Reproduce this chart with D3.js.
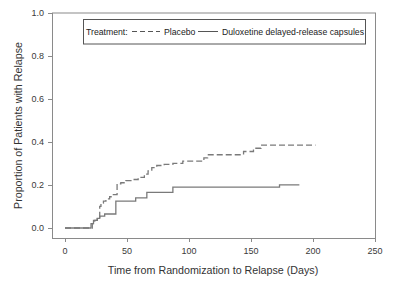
<!DOCTYPE html>
<html>
<head>
<meta charset="utf-8">
<script src="https://cdn.jsdelivr.net/npm/d3@7"></script>
<style>
  html, body { margin: 0; padding: 0; background: #fff; }
  svg { display: block; font-family: Arial, "Liberation Sans", sans-serif; }
</style>
</head>
<body>
<svg id="chart" width="400" height="283"></svg>
<script>
// Kaplan-Meier step data (day of event, cumulative proportion relapsed after it)
const placeboDays = [0, 22, 24, 26, 28, 29, 31, 33, 36, 39, 42, 45, 49, 54, 59, 64, 67, 70, 74, 80, 87, 95, 112, 115, 144, 152, 158, 202];
const placeboProp = [0, 0.02, 0.035, 0.05, 0.10, 0.115, 0.125, 0.135, 0.145, 0.155, 0.205, 0.21, 0.22, 0.225, 0.235, 0.25, 0.265, 0.28, 0.29, 0.295, 0.30, 0.31, 0.325, 0.34, 0.355, 0.37, 0.385, 0.385];

const duloxDays = [0, 21, 23, 26, 28, 32, 41, 57, 66, 87, 173, 189];
const duloxProp = [0, 0.02, 0.035, 0.045, 0.055, 0.065, 0.125, 0.14, 0.165, 0.19, 0.2, 0.2];

const xTicks = [0, 50, 100, 150, 200, 250];
const yTicks = [0, 0.2, 0.4, 0.6, 0.8, 1.0];

const svg = d3.select('#chart');

const x = d3.scaleLinear().domain([0, 250]).range([65, 375]);
const y = d3.scaleLinear().domain([0, 1]).range([228, 12.5]);

const frameLeft = 52, frameBottom = 238;
const axisColor = '#8a8a8a';
const textColor = '#3a3a3a';
const lineColor = '#7a7a7a';

// plot frame
svg.append('rect')
  .attr('x', frameLeft + 0.5)
  .attr('y', y(1) + 0.5)
  .attr('width', x(250) - frameLeft)
  .attr('height', frameBottom - y(1))
  .attr('fill', 'none')
  .attr('stroke', axisColor)
  .attr('stroke-width', 1);

// y ticks
const yAxis = svg.append('g');
yTicks.forEach(t => {
  yAxis.append('line')
    .attr('x1', frameLeft - 4).attr('x2', frameLeft)
    .attr('y1', Math.round(y(t)) + 0.5).attr('y2', Math.round(y(t)) + 0.5)
    .attr('stroke', axisColor);
  yAxis.append('text')
    .attr('x', frameLeft - 8)
    .attr('y', y(t) + 3.2)
    .attr('text-anchor', 'end')
    .attr('font-size', 9)
    .attr('fill', textColor)
    .text(d3.format('.1f')(t));
});

// x ticks
const xAxis = svg.append('g');
xTicks.forEach(t => {
  xAxis.append('line')
    .attr('x1', Math.round(x(t)) + 0.5).attr('x2', Math.round(x(t)) + 0.5)
    .attr('y1', frameBottom).attr('y2', frameBottom + 4)
    .attr('stroke', axisColor);
  xAxis.append('text')
    .attr('x', x(t))
    .attr('y', 253.5)
    .attr('text-anchor', 'middle')
    .attr('font-size', 9)
    .attr('fill', textColor)
    .text(t);
});

// axis titles
svg.append('text')
  .attr('x', (x(0) + x(250)) / 2 - 7)
  .attr('y', 274)
  .attr('text-anchor', 'middle')
  .attr('font-size', 10.7)
  .attr('fill', '#333')
  .text('Time from Randomization to Relapse (Days)');

svg.append('text')
  .attr('transform', 'translate(22,125.5) rotate(-90)')
  .attr('text-anchor', 'middle')
  .attr('font-size', 10.7)
  .attr('fill', '#333')
  .text('Proportion of Patients with Relapse');

// step curves
const step = d3.line()
  .x(d => x(d[0]))
  .y(d => y(d[1]))
  .curve(d3.curveStepAfter);

svg.append('path')
  .datum(d3.zip(duloxDays, duloxProp))
  .attr('d', step)
  .attr('fill', 'none')
  .attr('stroke', lineColor)
  .attr('stroke-width', 1.3);

svg.append('path')
  .datum(d3.zip(placeboDays, placeboProp))
  .attr('d', step)
  .attr('fill', 'none')
  .attr('stroke', lineColor)
  .attr('stroke-width', 1.3)
  .attr('stroke-dasharray', '6,3');

// legend
const legend = svg.append('g');
legend.append('rect')
  .attr('x', 83.5).attr('y', 19.5)
  .attr('width', 282).attr('height', 24.5)
  .attr('fill', '#fff')
  .attr('stroke', '#555');

legend.append('text')
  .attr('x', 86).attr('y', 34.5)
  .attr('font-size', 8.7).attr('fill', '#222')
  .text('Treatment:');
legend.append('line')
  .attr('x1', 132).attr('x2', 160).attr('y1', 31.5).attr('y2', 31.5)
  .attr('stroke', '#555').attr('stroke-dasharray', '5,3');
legend.append('text')
  .attr('x', 164).attr('y', 34.5)
  .attr('font-size', 8.7).attr('fill', '#222')
  .text('Placebo');
legend.append('line')
  .attr('x1', 198).attr('x2', 218).attr('y1', 31.5).attr('y2', 31.5)
  .attr('stroke', '#555');
legend.append('text')
  .attr('x', 222).attr('y', 34.5)
  .attr('font-size', 8.7).attr('fill', '#222')
  .text('Duloxetine delayed-release capsules');
</script>
</body>
</html>
